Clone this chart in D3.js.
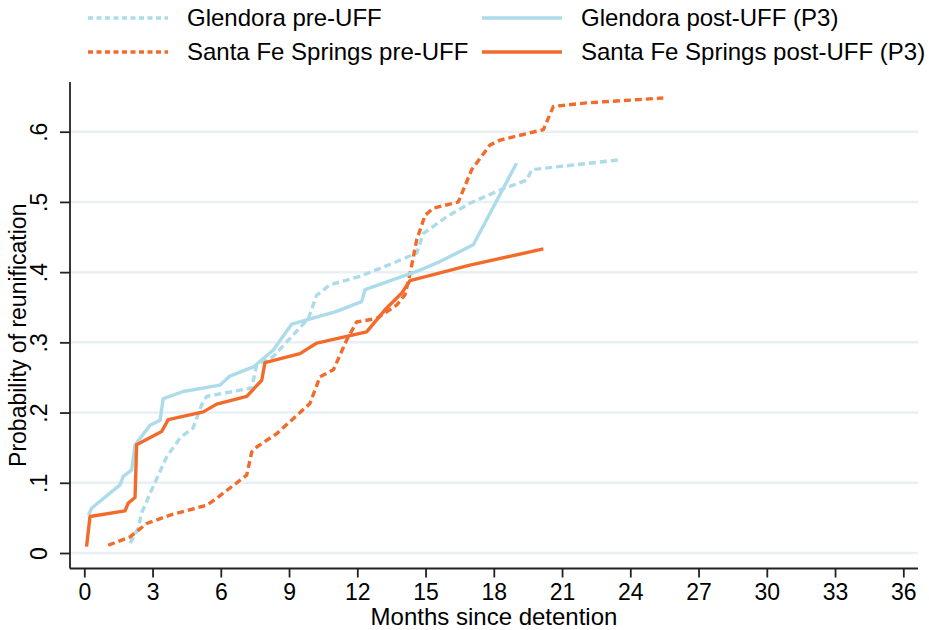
<!DOCTYPE html>
<html><head><meta charset="utf-8">
<script src="https://cdn.jsdelivr.net/npm/d3@7"></script>
<style>body{margin:0;background:#fff}svg{display:block}text{font-family:"Liberation Sans",Arial,sans-serif;fill:#000}</style>
</head><body>
<svg id="c" width="929" height="630"></svg>
<script>
// Data: [month, probability]
const glendoraPre = [[2.01,.014],[2.37,.035],[2.52,.057],[2.89,.085],[3.62,.137],[4.21,.164],[4.78,.178],[5.16,.211],[5.38,.223],[7.36,.235],[7.58,.268],[8.31,.280],[9.85,.334],[10.21,.367],[10.80,.382],[12.12,.394],[13.58,.413],[14.61,.427],[14.90,.455],[15.93,.479],[16.95,.498],[18.27,.517],[19.45,.531],[19.67,.546],[23.55,.560]];
const glendoraPost = [[0.18,.054],[0.33,.064],[1.57,.097],[1.71,.109],[2.08,.118],[2.23,.154],[2.89,.182],[3.33,.189],[3.47,.220],[4.35,.230],[5.96,.239],[6.4,.252],[7.43,.265],[8.31,.289],[9.12,.326],[9.78,.332],[11.09,.344],[12.19,.358],[12.34,.375],[14.76,.403],[15.63,.415],[17.1,.439],[19.0,.555]];
const sfsPre = [[1.05,.011],[2.01,.023],[2.74,.042],[3.77,.054],[5.38,.068],[5.82,.078],[7.14,.111],[7.36,.144],[7.58,.151],[8.46,.170],[9.92,.213],[10.36,.251],[10.95,.261],[11.53,.303],[11.97,.329],[12.85,.334],[13.73,.353],[14.1,.368],[14.32,.398],[14.61,.446],[14.98,.481],[15.34,.491],[16.44,.500],[17.03,.546],[17.83,.581],[18.27,.588],[20.18,.603],[20.62,.636],[22.08,.641],[25.45,.648]];
const sfsPost = [[0.1,.009],[0.25,.052],[1.79,.060],[1.93,.071],[2.23,.079],[2.30,.154],[3.40,.173],[3.69,.190],[5.23,.201],[5.82,.212],[7.14,.223],[7.80,.246],[7.94,.271],[9.48,.284],[10.22,.299],[12.41,.315],[13.29,.349],[13.95,.370],[14.32,.388],[16.95,.410],[20.18,.433]];
const xTicks = [0,3,6,9,12,15,18,21,24,27,30,33,36];
const yTicks = [0,.1,.2,.3,.4,.5,.6];
const yTickLabels = ["0",".1",".2",".3",".4",".5",".6"];
const seriesNames = ["Glendora pre-UFF","Glendora post-UFF (P3)","Santa Fe Springs pre-UFF","Santa Fe Springs post-UFF (P3)"];

const BLUE = "#acdbe9", ORANGE = "#f36b2b";
const series = [
  {name: seriesNames[0], data: glendoraPre, color: BLUE, dash: "7,4"},
  {name: seriesNames[1], data: glendoraPost, color: BLUE, dash: null},
  {name: seriesNames[2], data: sfsPre, color: ORANGE, dash: "7,4"},
  {name: seriesNames[3], data: sfsPost, color: ORANGE, dash: null}
];

const svg = d3.select("#c");
const L = 70, R = 918, T = 82, B = 568.5;
const x = d3.scaleLinear().domain([0,36]).range([84.3,903.3]);
const y = d3.scaleLinear().domain([0,.6]).range([553,131.7]);

// gridlines
svg.append("g").selectAll("line").data(yTicks).join("line")
  .attr("x1", L).attr("x2", R).attr("y1", d=>y(d)).attr("y2", d=>y(d))
  .attr("stroke", "#e9f0f3").attr("stroke-width", 2.5);

// lines
const line = d3.line().x(d=>x(d[0])).y(d=>y(d[1]));
[0,2,1,3].forEach(i=>{
  const s = series[i];
  svg.append("path").attr("d", line(s.data)).attr("fill","none")
    .attr("stroke", s.color).attr("stroke-width", 3.4)
    .attr("stroke-dasharray", s.dash).attr("stroke-linejoin","round");
});

// axes
const xAxis = d3.axisBottom(x).tickValues(xTicks).tickSize(9).tickPadding(6).tickFormat(d3.format("d"));
const gx = svg.append("g").attr("transform", `translate(0,${B})`).call(xAxis);
gx.select(".domain").attr("d", `M${L},0H${R}`).attr("stroke","#222").attr("stroke-width",1.8);
gx.selectAll(".tick line").attr("stroke","#222").attr("stroke-width",1.8);
gx.selectAll(".tick text").attr("font-size", 23).style("font-family","Liberation Sans, Arial, sans-serif").attr("fill","#000");

const yAxis = d3.axisLeft(y).tickValues(yTicks).tickSize(10).tickFormat((d,i)=>yTickLabels[i]);
const gy = svg.append("g").attr("transform", `translate(${L},0)`).call(yAxis);
gy.select(".domain").attr("d", `M0,${T}V${B}`).attr("stroke","#222").attr("stroke-width",1.8);
gy.selectAll(".tick line").attr("stroke","#222").attr("stroke-width",1.8);
gy.selectAll(".tick text").attr("font-size", 23).style("font-family","Liberation Sans, Arial, sans-serif").attr("fill","#000")
  .attr("x", null).attr("dy", null).attr("text-anchor","middle")
  .attr("transform", "translate(-23,0) rotate(-90)").attr("y", 0);

// axis titles
svg.append("text").attr("x", (L+R)/2).attr("y", 625).attr("text-anchor","middle").attr("font-size", 24).text("Months since detention");
svg.append("text").attr("transform", `translate(26,${(T+B)/2+10}) rotate(-90)`).attr("text-anchor","middle").attr("font-size", 23).text("Probability of reunification");

// legend
const legPos = [[88,18],[482,18],[88,52],[482,52]];
series.forEach((s,i)=>{
  const [lx,ly] = legPos[i];
  const g = svg.append("g").attr("transform", `translate(${lx},${ly})`);
  g.append("line").attr("x1",0).attr("x2",80).attr("y1",0).attr("y2",0)
    .attr("stroke", s.color).attr("stroke-width", 3.5).attr("stroke-dasharray", s.dash ? "5,3.5" : null);
  g.append("text").attr("x", 99).attr("y", 0).attr("dy","0.35em").attr("font-size", 24).text(s.name);
});
</script>
</body></html>
